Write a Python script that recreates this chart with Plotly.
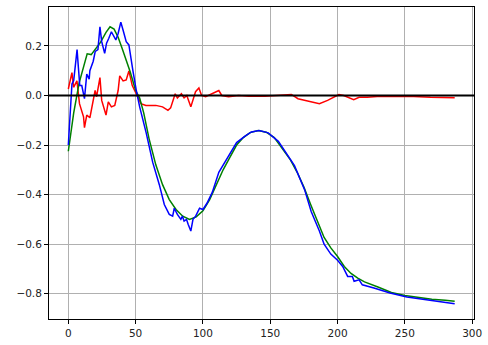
import plotly.graph_objects as go

# Green (smooth) series
green_x = [0, 4, 8, 11, 14, 17, 20, 24, 28, 31, 34, 37, 40, 43, 46, 50, 53, 56, 60, 65, 70, 75, 80, 85,
           90, 95, 100, 105, 110, 115, 120, 125, 130, 135, 141, 147, 153, 160, 165, 170, 175, 180, 185,
           190, 195, 200, 205, 210, 215, 220, 230, 240, 250, 260, 270, 280, 287]
green_y = [-0.225, -0.07, 0.05, 0.115, 0.168, 0.165, 0.185, 0.215, 0.255, 0.277, 0.268, 0.235, 0.19,
           0.145, 0.095, 0.02, -0.01, -0.07, -0.175, -0.28, -0.36, -0.42, -0.46, -0.487, -0.5, -0.49,
           -0.465, -0.42, -0.36, -0.3, -0.25, -0.2, -0.17, -0.15, -0.141, -0.148, -0.17, -0.22, -0.26,
           -0.31, -0.37, -0.44, -0.51, -0.573, -0.615, -0.65, -0.69, -0.718, -0.737, -0.752, -0.773,
           -0.795, -0.807, -0.816, -0.822, -0.826, -0.83]

# Blue (noisy) series
blue_x = [0, 2.7, 4, 5, 6.5, 7.5, 8.5, 10, 12, 13.7, 15.5, 16, 18.5, 20, 22, 23.5, 24.8, 27, 28.4, 30,
          32, 33.3, 35.3, 37, 39, 40.7, 43, 45, 46, 48, 50.5, 53, 57.8, 62.7, 67.6, 71.3, 75, 77.5,
          78.7, 81, 83.6, 84.8, 86, 87.8, 89, 91, 92.6, 94.6, 97.5, 100, 103, 107, 111.8, 114, 116.7,
          120, 125, 131, 136, 141.8, 148.5, 156, 163, 168, 175.5, 180.4, 186.5, 190, 195, 200, 203.8,
          206, 207.5, 211, 212.3, 216, 218.4, 227, 239, 251.5, 263.7, 276, 287]
blue_y = [-0.2, 0.046, 0.06, 0.112, 0.185, 0.112, 0.04, 0.04, -0.013, 0.086, 0.066, 0.1, 0.138, 0.178,
          0.185, 0.277, 0.217, 0.17, 0.211, 0.23, 0.257, 0.244, 0.224, 0.25, 0.296, 0.263, 0.217, 0.204,
          0.165, 0.099, 0.02, -0.046, -0.15, -0.27, -0.36, -0.44, -0.48, -0.487, -0.455, -0.48, -0.5,
          -0.487, -0.507, -0.5, -0.52, -0.547, -0.5, -0.487, -0.455, -0.46, -0.435, -0.39, -0.31, -0.29,
          -0.27, -0.24, -0.19, -0.165, -0.147, -0.141, -0.151, -0.185, -0.244, -0.283, -0.38, -0.468,
          -0.547, -0.6, -0.64, -0.665, -0.69, -0.711, -0.73, -0.73, -0.75, -0.744, -0.764, -0.777,
          -0.797, -0.813, -0.823, -0.83, -0.84]

# Red (residual) series
red_x = [0, 2.7, 3.9, 6.4, 8.3, 11.3, 12, 13.7, 16, 18.6, 19.9, 21, 23.5, 24.8, 28, 29.7, 32, 34.5, 37,
         38.2, 40.7, 43, 45, 47.5, 50.5, 54, 57.6, 65, 70, 74, 76, 77.5, 79.4, 81, 84, 86, 88, 91, 94.5,
         97, 99, 102, 107, 111.8, 114, 119, 126.5, 134, 146, 156, 165.7, 170.6, 175.5, 180.4, 186.5,
         192.6, 197.5, 201, 204.6, 208.3, 212, 216, 222, 232, 244, 256.5, 269, 287]
red_y = [0.026, 0.092, 0.033, 0.059, -0.033, -0.086, -0.13, -0.079, -0.09, -0.02, 0.02, -0.005, 0.072,
         -0.02, -0.079, -0.026, -0.046, -0.04, 0.02, 0.079, 0.059, 0.063, 0.099, 0.04, 0.007, -0.033,
         -0.04, -0.04, -0.046, -0.06, -0.05, -0.026, 0.007, -0.01, 0.007, -0.01, 0.0, -0.046, 0.015,
         0.03, 0.0, -0.005, 0.007, 0.02, 0.0, -0.005, 0.0, -0.003, -0.003, 0.0, 0.004, -0.013, -0.02,
         -0.026, -0.033, -0.02, -0.007, 0.004, 0.0, -0.01, -0.017, -0.007, -0.007, -0.003, -0.003,
         -0.004, -0.007, -0.009]

x_ticks = [0, 50, 100, 150, 200, 250, 300]
x_tick_labels = ["0", "50", "100", "150", "200", "250", "300"]
y_ticks = [-0.8, -0.6, -0.4, -0.2, 0.0, 0.2]
y_tick_labels = ["\u22120.8", "\u22120.6", "\u22120.4", "\u22120.2", "0.0", "0.2"]

fig = go.Figure()
fig.add_trace(go.Scatter(x=red_x, y=red_y, mode="lines", line=dict(color="#ff0000", width=1.5)))
fig.add_trace(go.Scatter(x=green_x, y=green_y, mode="lines", line=dict(color="#008000", width=1.5)))
fig.add_trace(go.Scatter(x=blue_x, y=blue_y, mode="lines", line=dict(color="#0000ff", width=1.5)))

fig.add_shape(type="line", xref="paper", yref="y", x0=0, x1=1, y0=0, y1=0,
              line=dict(color="#000000", width=2), layer="above")

axis_common = dict(
    showgrid=True, gridcolor="#b0b0b0", gridwidth=0.8,
    showline=True, linecolor="#000000", linewidth=1, mirror=True,
    ticks="outside", ticklen=4, tickcolor="#000000", tickwidth=1,
    zeroline=False, tickfont=dict(family="DejaVu Sans", size=10.5, color="#222222"),
)

fig.update_layout(
    width=488, height=345,
    margin=dict(l=49, r=9, t=6, b=23),
    plot_bgcolor="#ffffff", paper_bgcolor="#ffffff",
    showlegend=False,
    hovermode=False,
    xaxis=dict(range=[-14.35, 301.35], tickvals=x_ticks, ticktext=x_tick_labels, **axis_common),
    yaxis=dict(range=[-0.902, 0.357], tickvals=y_ticks, ticktext=y_tick_labels, **axis_common),
)

fig.write_html("out.html", config={"displayModeBar": False},
               post_script="document.body.style.margin='0';document.body.style.overflow='hidden';")
